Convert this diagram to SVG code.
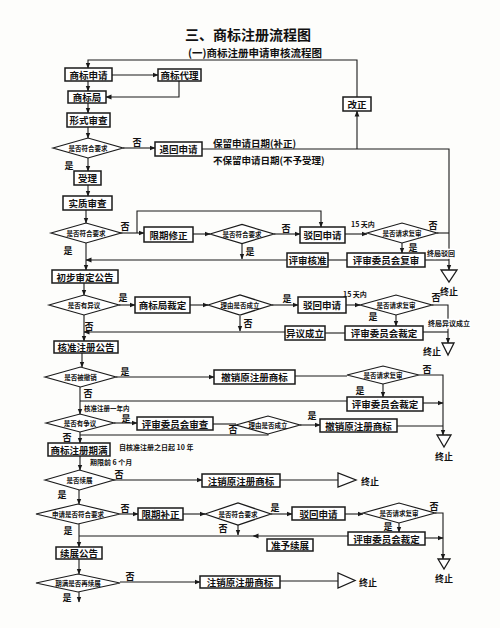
<svg xmlns="http://www.w3.org/2000/svg" width="500" height="628" viewBox="0 0 500 628">
<style>
.bg{fill:#fdfdfb}
.b{fill:#fff;stroke:#1a1a1a;stroke-width:1.5}
.d{fill:#fff;stroke:#1a1a1a;stroke-width:1.2}
.tri{fill:#fff;stroke:#1a1a1a;stroke-width:1.3}
.l{fill:none;stroke:#1a1a1a;stroke-width:1.1}
.t{font-family:"Noto Sans CJK SC","Noto Sans CJK TC",sans-serif;font-weight:bold;font-size:9.5px;text-anchor:middle;dominant-baseline:central;fill:#111}
.s{font-family:"Noto Sans CJK SC",sans-serif;font-weight:bold;font-size:6.5px;text-anchor:middle;dominant-baseline:central;fill:#111}
.y{font-family:"Noto Sans CJK SC",sans-serif;font-weight:bold;font-size:9px;text-anchor:middle;dominant-baseline:central;fill:#111}
.n{font-family:"Noto Sans CJK SC",sans-serif;font-weight:bold;font-size:7px;fill:#111;dominant-baseline:central}
.h{paint-order:stroke;stroke:#fff;stroke-width:3}
</style>
<defs>
<marker id="a" markerWidth="6" markerHeight="6" refX="5.5" refY="3" orient="auto" markerUnits="userSpaceOnUse">
<path d="M0,0.6 L6,3 L0,5.4 Z" fill="#1a1a1a"/>
</marker>
</defs>
<rect class="bg" x="0" y="0" width="500" height="628"/>
<text x="248" y="34" style="font-family:'Noto Sans CJK SC',sans-serif;font-weight:bold;font-size:14px;text-anchor:middle;dominant-baseline:central;fill:#111">三、商标注册流程图</text>
<text x="255" y="52.5" style="font-family:'Noto Sans CJK SC',sans-serif;font-weight:bold;font-size:10.5px;text-anchor:middle;dominant-baseline:central;fill:#111">(一)商标注册申请审核流程图</text>

<g id="connectors">
<polyline class="l" points="357,97 357,60 88,60 88,68" marker-end="url(#a)"/>
<line class="l" x1="112" y1="75" x2="158" y2="75" marker-end="url(#a)"/>
<line class="l" x1="88" y1="81" x2="88" y2="91" marker-end="url(#a)"/>
<polyline class="l" points="179,81 179,97 106,97" marker-end="url(#a)"/>
<line class="l" x1="88" y1="103" x2="88" y2="113" marker-end="url(#a)"/>
<line class="l" x1="88" y1="127" x2="88" y2="138" marker-end="url(#a)"/>
<line class="l" x1="123" y1="148" x2="155" y2="148" marker-end="url(#a)"/>
<polyline class="l" points="202,149 449,149 449,270" marker-end="url(#a)"/>
<line class="l" x1="357" y1="149" x2="357" y2="111" marker-end="url(#a)"/>
<line class="l" x1="88" y1="158" x2="88" y2="171" marker-end="url(#a)"/>
<line class="l" x1="88" y1="185" x2="88" y2="196" marker-end="url(#a)"/>
<line class="l" x1="86" y1="210" x2="86" y2="223" marker-end="url(#a)"/>
<line class="l" x1="119" y1="233" x2="144" y2="233" marker-end="url(#a)"/>
<polyline class="l" points="137,233 137,211 321,211 321,227" marker-end="url(#a)"/>
<line class="l" x1="193" y1="234" x2="210" y2="234" marker-end="url(#a)"/>
<line class="l" x1="274" y1="234" x2="300" y2="234" marker-end="url(#a)"/>
<line class="l" x1="242" y1="243.5" x2="242" y2="259" marker-end="url(#a)"/>
<line class="l" x1="287" y1="260" x2="86" y2="260" marker-end="url(#a)"/>
<line class="l" x1="328" y1="260" x2="347" y2="260"/>
<line class="l" x1="345" y1="234" x2="367" y2="234" marker-end="url(#a)"/>
<line class="l" x1="437" y1="233" x2="449" y2="233"/>
<line class="l" x1="402" y1="243" x2="402" y2="253" marker-end="url(#a)"/>
<line class="l" x1="425" y1="260" x2="449" y2="260"/>
<line class="l" x1="86" y1="243" x2="86" y2="270" marker-end="url(#a)"/>
<line class="l" x1="84" y1="283" x2="84" y2="295" marker-end="url(#a)"/>
<line class="l" x1="119" y1="305" x2="135" y2="305" marker-end="url(#a)"/>
<line class="l" x1="190" y1="305" x2="208" y2="305" marker-end="url(#a)"/>
<line class="l" x1="272" y1="305" x2="298" y2="305" marker-end="url(#a)"/>
<line class="l" x1="240" y1="316" x2="240" y2="331" marker-end="url(#a)"/>
<line class="l" x1="285" y1="332" x2="84" y2="332" marker-end="url(#a)"/>
<line class="l" x1="84" y1="315" x2="84" y2="341" marker-end="url(#a)"/>
<line class="l" x1="325" y1="333" x2="345" y2="333"/>
<line class="l" x1="346" y1="305" x2="360" y2="305" marker-end="url(#a)"/>
<polyline class="l" points="432,305 448,305 448,343" marker-end="url(#a)"/>
<line class="l" x1="396" y1="315" x2="396" y2="326" marker-end="url(#a)"/>
<line class="l" x1="423" y1="332" x2="448" y2="332"/>
<line class="l" x1="82" y1="353" x2="82" y2="367" marker-end="url(#a)"/>
<line class="l" x1="116" y1="377" x2="214" y2="377" marker-end="url(#a)"/>
<line class="l" x1="295" y1="376" x2="347" y2="376"/>
<polyline class="l" points="419,375 443,375 443,435" marker-end="url(#a)"/>
<line class="l" x1="383" y1="384" x2="383" y2="397" marker-end="url(#a)"/>
<line class="l" x1="423" y1="403" x2="443" y2="403" marker-end="url(#a)"/>
<line class="l" x1="347" y1="401" x2="80" y2="401"/>
<line class="l" x1="80" y1="387" x2="80" y2="414" marker-end="url(#a)"/>
<line class="l" x1="114" y1="423" x2="137" y2="423" marker-end="url(#a)"/>
<line class="l" x1="213" y1="424" x2="236" y2="424"/>
<line class="l" x1="300" y1="425" x2="320" y2="425" marker-end="url(#a)"/>
<polyline class="l" points="268,434 268,435 80,435"/>
<line class="l" x1="397" y1="426" x2="443" y2="426"/>
<line class="l" x1="80" y1="432" x2="80" y2="443" marker-end="url(#a)"/>
<line class="l" x1="80" y1="456" x2="80" y2="470" marker-end="url(#a)"/>
<line class="l" x1="113" y1="480" x2="202" y2="480" marker-end="url(#a)"/>
<line class="l" x1="280" y1="480" x2="338" y2="480"/>
<line class="l" x1="79" y1="490" x2="79" y2="504" marker-end="url(#a)"/>
<line class="l" x1="120" y1="514" x2="138" y2="514" marker-end="url(#a)"/>
<line class="l" x1="183" y1="514" x2="205" y2="514" marker-end="url(#a)"/>
<line class="l" x1="271" y1="514" x2="292" y2="514" marker-end="url(#a)"/>
<line class="l" x1="238" y1="525" x2="238" y2="535" marker-end="url(#a)"/>
<line class="l" x1="345" y1="514" x2="363" y2="514" marker-end="url(#a)"/>
<polyline class="l" points="435,513 443,513 443,559" marker-end="url(#a)"/>
<line class="l" x1="399" y1="523" x2="399" y2="532" marker-end="url(#a)"/>
<line class="l" x1="425" y1="538" x2="443" y2="538" marker-end="url(#a)"/>
<line class="l" x1="348" y1="536" x2="253" y2="536" marker-end="url(#a)"/>
<line class="l" x1="253" y1="536" x2="79" y2="536"/>
<line class="l" x1="79" y1="524" x2="79" y2="547" marker-end="url(#a)"/>
<line class="l" x1="79" y1="559" x2="79" y2="574" marker-end="url(#a)"/>
<line class="l" x1="120" y1="582" x2="200" y2="582" marker-end="url(#a)"/>
<line class="l" x1="280" y1="581" x2="338" y2="581"/>
<line class="l" x1="79" y1="592" x2="79" y2="602" marker-end="url(#a)"/>
</g>

<g id="labels">
<text class="y" x="137" y="142">否</text>
<text class="n" x="213" y="143" style="font-size:9.5px">保留申请日期(补正)</text>
<text class="n" x="213" y="160" style="font-size:9.5px">不保留申请日期(不予受理)</text>
<text class="y" x="69" y="165">是</text>
<text class="y" x="125" y="226">否</text>
<text class="y" x="286" y="228">否</text>
<text class="y" x="250" y="251">是</text>
<text class="y" x="68" y="250">是</text>
<text class="n" x="351" y="224">15 天内</text>
<text class="y" x="433" y="225">否</text>
<text class="y" x="413" y="247">是</text>
<text class="n h" x="427" y="253">终局驳回</text>
<text class="y" x="123" y="297">是</text>
<text class="y" x="287" y="298">是</text>
<text class="y" x="248" y="323">否</text>
<text class="y" x="89" y="326">否</text>
<text class="n" x="343" y="294">15 天内</text>
<text class="y" x="436" y="297">否</text>
<text class="y" x="373" y="316">是</text>
<text class="n h" x="428" y="323">终局异议成立</text>
<text class="y" x="125" y="371">是</text>
<text class="y" x="427" y="369">否</text>
<text class="y" x="360" y="390">是</text>
<text class="y" x="88" y="393">否</text>
<text class="n" x="84" y="407.5" style="font-size:6.5px">核准注册一年内</text>
<text class="y" x="126" y="418">是</text>
<text class="y" x="233" y="429">否</text>
<text class="y" x="312" y="415">是</text>
<text class="y" x="67" y="437">否</text>
<text class="n" x="119" y="447">自核准注册之日起 10 年</text>
<text class="n" x="90" y="462">期限前 6 个月</text>
<text class="y" x="119" y="474">否</text>
<text class="y" x="62" y="494">是</text>
<text class="y" x="125" y="508">否</text>
<text class="y" x="275" y="507">是</text>
<text class="y" x="223" y="528">否</text>
<text class="y" x="434" y="506">否</text>
<text class="y" x="388" y="526">是</text>
<text class="y" x="68" y="530">是</text>
<text class="y" x="130" y="576">否</text>
<text class="y" x="67" y="597">是</text>
</g>

<g id="n1"><rect class="b" x="65" y="68" width="47" height="13"/><text class="t" x="88.5" y="74.5">商标申请</text></g>
<g id="n2"><rect class="b" x="158" y="69" width="43" height="12"/><text class="t" x="179.5" y="75">商标代理</text></g>
<g id="n3"><rect class="b" x="68" y="91" width="38" height="12"/><text class="t" x="87" y="97">商标局</text></g>
<g id="n4"><rect class="b" x="343" y="97" width="28" height="14"/><text class="t" x="357" y="104">改正</text></g>
<g id="n5"><rect class="b" x="67" y="113" width="43" height="14"/><text class="t" x="88.5" y="120">形式审查</text></g>
<g id="d1"><polygon class="d" points="53,148 88,138 123,148 88,158"/><text class="s" x="88" y="148">是否符合要求</text></g>
<g id="n6"><rect class="b" x="155" y="142" width="47" height="14"/><text class="t" x="178.5" y="149">退回申请</text></g>
<g id="n7"><rect class="b" x="74" y="171" width="27" height="14"/><text class="t" x="87.5" y="178">受理</text></g>
<g id="n8"><rect class="b" x="63" y="196" width="49" height="14"/><text class="t" x="87.5" y="203">实质审查</text></g>
<g id="d2"><polygon class="d" points="51,233 86,223 121,233 86,243"/><text class="s" x="86" y="233">是否符合要求</text></g>
<g id="n9"><rect class="b" x="144" y="227" width="49" height="15"/><text class="t" x="168.5" y="234.5">限期修正</text></g>
<g id="d3"><polygon class="d" points="210,234 242,224.5 274,234 242,243.5"/><text class="s" x="242" y="234">是否符合要求</text></g>
<g id="n10"><rect class="b" x="300" y="227" width="45" height="16"/><text class="t" x="322.5" y="235">驳回申请</text></g>
<g id="d4"><polygon class="d" points="367,233 402,223 437,233 402,243"/><text class="s" x="402" y="233">是否请求复审</text></g>
<g id="n11"><rect class="b" x="287" y="253" width="41" height="14"/><text class="t" x="307.5" y="260">评审核准</text></g>
<g id="n12"><rect class="b" x="347" y="253" width="78" height="14"/><text class="t" x="386" y="260">评审委员会复审</text></g>
<g id="e1"><polygon class="tri" points="441,270 457,270 449,282"/><text class="y" x="449" y="291">终止</text></g>
<g id="n13"><rect class="b" x="52" y="270" width="66" height="13"/><text class="t" x="85" y="276.5">初步审定公告</text></g>
<g id="d5"><polygon class="d" points="49,305 84,295 119,305 84,315"/><text class="s" x="84" y="305">是否有异议</text></g>
<g id="n14"><rect class="b" x="135" y="297" width="55" height="16"/><text class="t" x="162.5" y="305">商标局裁定</text></g>
<g id="d6"><polygon class="d" points="208,305 240,295 272,305 240,315"/><text class="s" x="240" y="305">理由是否成立</text></g>
<g id="n15"><rect class="b" x="298" y="297" width="48" height="16"/><text class="t" x="322" y="305">驳回申请</text></g>
<g id="d7"><polygon class="d" points="360,305 396,295 432,305 396,315"/><text class="s" x="396" y="305">是否请求复审</text></g>
<g id="n16"><rect class="b" x="285" y="326" width="40" height="14"/><text class="t" x="305" y="333">异议成立</text></g>
<g id="n17"><rect class="b" x="345" y="326" width="78" height="14"/><text class="t" x="384" y="333">评审委员会裁定</text></g>
<g id="e2"><polygon class="tri" points="442,343 454,343 448,355"/><text class="y" x="432" y="351">终止</text></g>
<g id="n18"><rect class="b" x="54" y="341" width="64" height="12"/><text class="t" x="86" y="347">核准注册公告</text></g>
<g id="d8"><polygon class="d" points="45,377 80.5,367 116,377 80.5,387"/><text class="s" x="80.5" y="377">是否被撤销</text></g>
<g id="n19"><rect class="b" x="214" y="370" width="81" height="14"/><text class="t" x="254.5" y="377">撤销原注册商标</text></g>
<g id="d9"><polygon class="d" points="347,375 383,366 419,375 383,384"/><text class="s" x="383" y="375">是否请求复审</text></g>
<g id="n20"><rect class="b" x="347" y="397" width="76" height="14"/><text class="t" x="385" y="404">评审委员会裁定</text></g>
<g id="d10"><polygon class="d" points="46,423 80,414 114,423 80,432"/><text class="s" x="80" y="423">是否有争议</text></g>
<g id="n21"><rect class="b" x="137" y="417" width="76" height="13"/><text class="t" x="175" y="423.5">评审委员会审查</text></g>
<g id="d11"><polygon class="d" points="236,425 268,416 300,425 268,434"/><text class="s" x="268" y="425">理由是否成立</text></g>
<g id="n22"><rect class="b" x="320" y="419" width="77" height="13"/><text class="t" x="358.5" y="425.5">撤销原注册商标</text></g>
<g id="e3"><polygon class="tri" points="437,435 451,435 444,447"/><text class="y" x="444" y="456">终止</text></g>
<g id="n23"><rect class="b" x="48" y="443" width="62" height="13"/><text class="t" x="79" y="449.5">商标注册期满</text></g>
<g id="d12"><polygon class="d" points="45,480 79.5,470 114,480 79.5,490"/><text class="s" x="79.5" y="480">是否续展</text></g>
<g id="n24"><rect class="b" x="202" y="474" width="78" height="13"/><text class="t" x="241" y="480.5">注销原注册商标</text></g>
<g id="e4"><polygon class="tri" points="338,473 338,487 356,480"/><text class="y" x="370" y="481">终止</text></g>
<g id="d13"><polygon class="d" points="36,514 78,504 120,514 78,524"/><text class="s" x="78" y="514">申请是否符合要求</text></g>
<g id="n25"><rect class="b" x="138" y="508" width="45" height="12"/><text class="t" x="160.5" y="514">限期补正</text></g>
<g id="d14"><polygon class="d" points="205,514 238,503 271,514 238,525"/><text class="s" x="238" y="514">是否符合要求</text></g>
<g id="n26"><rect class="b" x="292" y="507" width="53" height="13"/><text class="t" x="318.5" y="513.5">驳回申请</text></g>
<g id="d15"><polygon class="d" points="363,513 399,503 435,513 399,523"/><text class="s" x="399" y="513">是否请求复审</text></g>
<g id="n27"><rect class="b" x="348" y="532" width="77" height="13"/><text class="t" x="386.5" y="538.5">评审委员会裁定</text></g>
<g id="n28"><rect class="b" x="267" y="539" width="46" height="12"/><text class="t" x="290" y="545">准予续展</text></g>
<g id="e5"><polygon class="tri" points="438,559 450,559 444,569"/><text class="y" x="444" y="578">终止</text></g>
<g id="n29"><rect class="b" x="56" y="547" width="46" height="12"/><text class="t" x="79" y="553">续展公告</text></g>
<g id="d16"><polygon class="d" points="36,583 78,574 120,583 78,592"/><text class="s" x="78" y="583">期满是否再续展</text></g>
<g id="n30"><rect class="b" x="200" y="576" width="80" height="12"/><text class="t" x="240" y="582">注销原注册商标</text></g>
<g id="e6"><polygon class="tri" points="338,573 338,588 355,580.5"/><text class="y" x="368" y="582">终止</text></g>
</svg>
